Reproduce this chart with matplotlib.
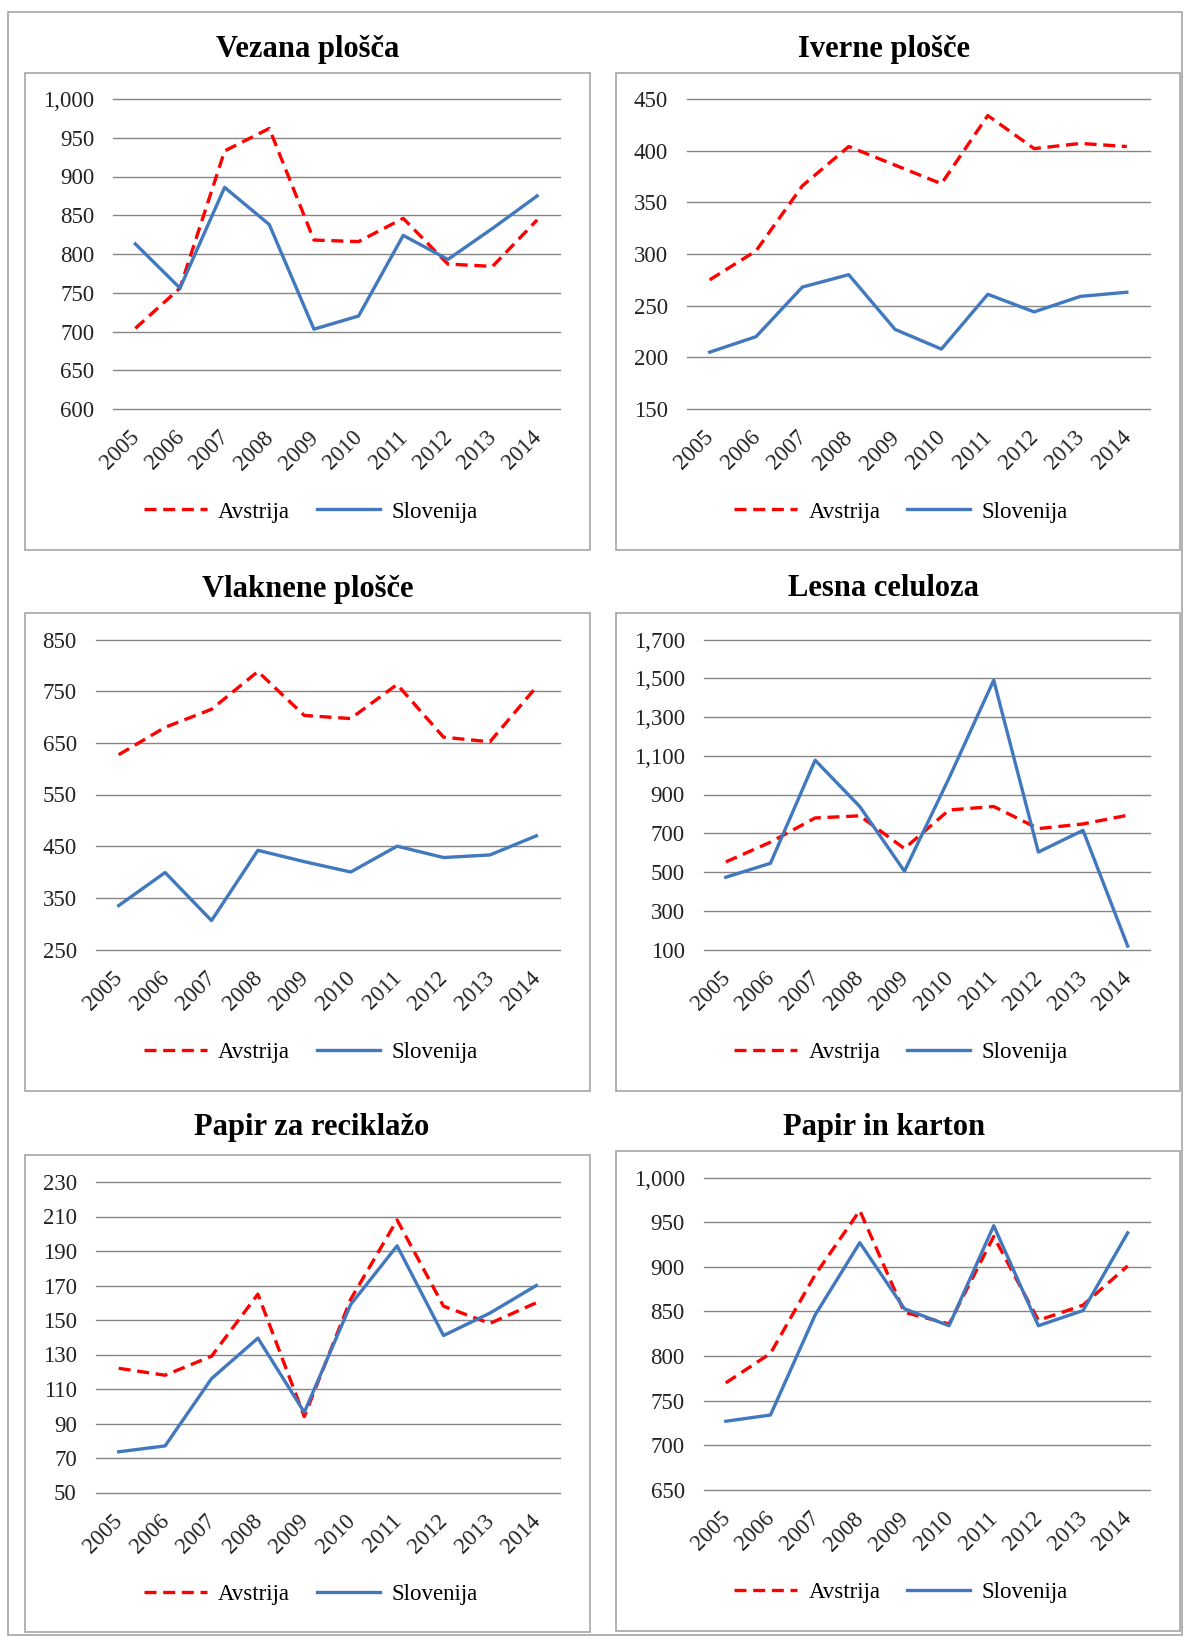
import matplotlib
matplotlib.use("Agg")
import matplotlib.pyplot as plt
from matplotlib.patches import Rectangle
from matplotlib.ticker import FuncFormatter
from matplotlib.transforms import ScaledTranslation
import numpy as np

plt.rcParams["font.family"] = ["Liberation Serif", "DejaVu Serif"]

# ---------------------------------------------------------------------------
# PODATKI
# ---------------------------------------------------------------------------
leta = ["2005", "2006", "2007", "2008", "2009", "2010", "2011", "2012", "2013", "2014"]

naslovi = ["Vezana plošča", "Iverne plošče", "Vlaknene plošče",
           "Lesna celuloza", "Papir za reciklažo", "Papir in karton"]

avstrija_vezana = [704, 756, 933, 962, 818, 816, 846, 787, 784, 844]
slovenija_vezana = [813, 756, 886, 838, 703, 720, 824, 793, 833, 875]

avstrija_iverne = [275, 303, 366, 404, 386, 368, 434, 402, 407, 404]
slovenija_iverne = [205, 220, 268, 280, 227, 208, 261, 244, 259, 263]

avstrija_vlaknene = [627, 680, 715, 788, 703, 697, 763, 661, 652, 758]
slovenija_vlaknene = [335, 399, 306, 442, 420, 400, 450, 428, 433, 470]

avstrija_celuloza = [552, 654, 779, 790, 621, 820, 838, 724, 748, 793]
slovenija_celuloza = [473, 545, 1077, 838, 504, 985, 1490, 603, 715, 118]

avstrija_reciklaza = [122, 118, 129, 165, 94, 162, 208, 158, 148, 160]
slovenija_reciklaza = [73.6, 77, 116, 139.5, 96.5, 159, 193, 141, 154, 170]

avstrija_karton = [770, 803, 891, 963, 849, 836, 934, 840, 857, 901]
slovenija_karton = [727, 734, 846, 927, 853, 834, 946, 834, 851, 938]

# (min, max, korak) osi y
osi_y = [(600, 1000, 50), (150, 450, 50), (250, 850, 100),
         (100, 1700, 200), (50, 230, 20), (650, 1000, 50)]

serije = [
    (avstrija_vezana, slovenija_vezana),
    (avstrija_iverne, slovenija_iverne),
    (avstrija_vlaknene, slovenija_vlaknene),
    (avstrija_celuloza, slovenija_celuloza),
    (avstrija_reciklaza, slovenija_reciklaza),
    (avstrija_karton, slovenija_karton),
]

# ---------------------------------------------------------------------------
# POSTAVITEV (v pikslih)
# ---------------------------------------------------------------------------
W, H = 1184, 1637

# okvir panela (x0, y0, x1, y1), obmocje grafa (x0, y0, x1, y1), naslov (x, y), legenda y
postavitev = [
    ((25, 73, 590, 550), (113, 99, 559.5, 409), (308, 49), 512),
    ((616, 73, 1180, 550), (686.5, 99, 1150, 409), (884, 49), 512),
    ((25, 613, 590, 1091), (95.5, 639.5, 559.5, 949.5), (308, 589), 1052),
    ((616, 613, 1180, 1091), (703.5, 639.5, 1150, 949.5), (884, 589), 1052),
    ((25, 1155, 590, 1632), (95.5, 1182, 559.5, 1492.5), (312, 1128), 1594),
    ((616, 1151, 1180, 1631), (703.5, 1177.5, 1150, 1490), (884, 1128), 1592),
]


def fx(px):
    return px / W


def fy(py):
    return 1 - py / H


fig = plt.figure(figsize=(W / 100, H / 100), dpi=100)

# zunanji okvir
fig.add_artist(Rectangle((fx(8), fy(1635)), fx(1182) - fx(8), fy(12) - fy(1635),
                         transform=fig.transFigure, fill=False,
                         edgecolor="#a6a6a6", linewidth=1.2))

x = np.arange(len(leta))
zamik = ScaledTranslation(0.085, -0.18, fig.dpi_scale_trans)

for i, (okvir, obm, nasl, leg_y) in enumerate(postavitev):
    bx0, by0, bx1, by1 = okvir
    fig.add_artist(Rectangle((fx(bx0), fy(by1)), fx(bx1) - fx(bx0), fy(by0) - fy(by1),
                             transform=fig.transFigure, fill=False,
                             edgecolor="#a6a6a6", linewidth=1.2))

    fig.text(fx(nasl[0]), fy(nasl[1]), naslovi[i], ha="center", va="center",
             fontsize=22, fontweight="bold")

    ax0, ay0, ax1, ay1 = obm
    ax = fig.add_axes([fx(ax0), fy(ay1), fx(ax1) - fx(ax0), fy(ay0) - fy(ay1)])

    av, sl = serije[i]
    ax.plot(x, av, color="#ff0000", linewidth=2.4, linestyle=(0, (3.6, 2.0)),
            label="Avstrija")
    ax.plot(x, sl, color="#4178be", linewidth=2.4, label="Slovenija")

    ymin, ymax, korak = osi_y[i]
    ax.set_ylim(ymin, ymax)
    ax.set_yticks(np.arange(ymin, ymax + korak / 2, korak))
    ax.yaxis.set_major_formatter(FuncFormatter(lambda v, p: f"{v:,.0f}"))
    ax.set_xlim(-0.5, len(leta) - 0.5)
    ax.set_xticks(x)
    ax.set_xticklabels([])

    # oznake let (zamaknjene kot v Excelu)
    for xi, leto in zip(x, leta):
        ax.text(xi, 0, leto, rotation=45, ha="right", va="top",
                fontsize=16.5, color="#222222",
                transform=ax.get_xaxis_transform() + zamik)

    ax.grid(axis="y", color="#868686", linewidth=1.0)
    ax.set_axisbelow(True)
    for gl in ax.get_ygridlines():
        gl.set_clip_on(False)
    for s in ax.spines.values():
        s.set_visible(False)
    ax.tick_params(axis="y", length=0, pad=13.5, labelsize=16.5, colors="#222222")
    ax.tick_params(axis="x", length=0)
    ax.patch.set_alpha(0)

    ax.legend(loc="center", bbox_to_anchor=(fx((bx0 + bx1) / 2 + 3), fy(leg_y)),
              bbox_transform=fig.transFigure, ncol=2, frameon=False,
              fontsize=16.5, handlelength=2.75, handletextpad=0.5,
              columnspacing=1.15)

fig.savefig("out.png", dpi=100, facecolor="white")
